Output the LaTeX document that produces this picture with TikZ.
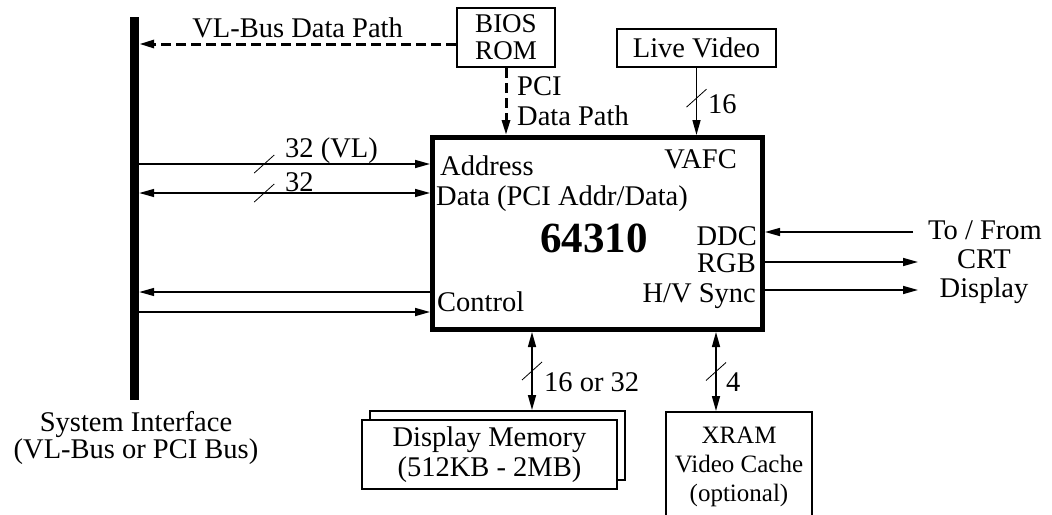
\documentclass[tikz,border=0pt]{standalone}
\usepackage{fontspec}
\setmainfont{Liberation Serif}
\usetikzlibrary{arrows.meta}
\tikzset{
  every node/.style={font=\fontsize{28.5}{30}\selectfont, inner sep=0pt},
  blk/.style={draw, line width=2pt, fill=white},
  chip/.style={draw, line width=5pt, minimum width=330pt, minimum height=192pt},
  busbar/.style={fill=black, minimum width=9pt, minimum height=383pt},
  conn/.style={line width=1.5pt},
  dpath/.style={line width=3pt, dash pattern=on 10pt off 5pt},
  slash/.style={line width=0.8pt}
}
\newcommand{\wbus}[1]{\draw[slash] ([shift={(-10,9)}]#1) -- ([shift={(10,-9)}]#1);}

\begin{document}
\begin{tikzpicture}[x=1pt, y=-1pt, >={Triangle[length=15pt,width=8pt]}]
\useasboundingbox (0,0) rectangle (1052,514);
\clip (0,0) rectangle (1052,514);

\node[busbar] (bus) at (134.5,208.5) {};
\node[anchor=north, align=center, font=\fontsize{28.5}{24}\selectfont] (sysif) at (136,411) {System Interface\\(VL-Bus or PCI Bus)};

\node[chip] (chip) at (597.5,233.5) {};
\node[blk, minimum width=98, minimum height=59, align=center, font=\fontsize{27}{27}\selectfont] (bios) at (506,37.5) {BIOS\\ROM};
\node[blk, minimum width=159, minimum height=38] (live) at (696.5,48) {Live Video};
\node[blk, minimum width=255, minimum height=69] (memback) at (497.5,445.5) {};
\node[blk, minimum width=255, minimum height=69, align=center] (mem) at (489.5,454.5) {Display Memory\\(512KB - 2MB)};
\node[blk, anchor=north, minimum width=146, inner ysep=15pt, align=center, font=\fontsize{25}{29}\selectfont] (xram) at (739,411) {XRAM\\Video Cache\\(optional)};

% pin labels of the 64310
\node[anchor=base west] (addr) at (440,175) {Address};
\node[anchor=base west] (data) at (436,205) {Data (PCI Addr/Data)};
\node[anchor=base west] (ctrl) at (437,311) {Control};
\node[anchor=base east] (vafc) at (737,168) {VAFC};
\node[anchor=base, font=\bfseries\fontsize{43}{45}\selectfont] (chipname) at (594,252) {64310};
\node[anchor=base east] (ddc) at (757,245) {DDC};
\node[anchor=base east] (rgb) at (756,272) {RGB};
\node[anchor=base east] (hvs) at (756,302) {H/V Sync};

\node[anchor=base] (tofrom) at (985,239) {To / From};
\node[anchor=base] (crt) at (984,268) {CRT};
\node[anchor=base] (disp) at (984,297) {Display};

\coordinate (vlpath) at (456,44);
\coordinate (apin) at (430,164);
\coordinate (dpin) at (430,193);
\coordinate (cout) at (430,292);
\coordinate (cin) at (430,312);
\coordinate (ddcend) at (913,232);
\coordinate (rgbend) at (918,262);
\coordinate (hvsend) at (918,290);
\coordinate (mtap) at (532,370);
\coordinate (xtap) at (716,370);

\draw[dpath,->] (bios.west |- vlpath) -- node[above=5pt] (vllbl) {VL-Bus Data Path} (bus.east |- vlpath);
\draw[dpath,->] (bios.south) -- (bios.south |- chip.north);
\node[anchor=north west, align=left] (pcilbl) at (517,76) {PCI\\Data Path};

\draw[conn,->] (live.south) -- coordinate[pos=0.45] (livetick) (live.south |- chip.north);
\wbus{livetick}
\node[anchor=base west] (livew) at (708,113) {16};

\draw[conn,->] (bus.east |- apin) -- coordinate[pos=0.43] (atick) (chip.west |- apin);
\wbus{atick}
\node[anchor=base west] (aw) at (285,157) {32 (VL)};
\draw[conn,<->] (bus.east |- dpin) -- coordinate[pos=0.43] (dtick) (chip.west |- dpin);
\wbus{dtick}
\node[anchor=base west] (dw) at (285,191) {32};
\draw[conn,<-] (bus.east |- cout) -- (chip.west |- cout);
\draw[conn,->] (bus.east |- cin) -- (chip.west |- cin);

\draw[conn,->] (ddcend) -- (chip.east |- ddcend);
\draw[conn,->] (chip.east |- rgbend) -- (rgbend);
\draw[conn,->] (chip.east |- hvsend) -- (hvsend);

\draw[conn,<->] (chip.south -| mtap) -- coordinate (mtick) (memback.north -| mtap);
\wbus{mtick}
\node[anchor=base west] (mw) at (544,391) {16 or 32};
\draw[conn,<->] (chip.south -| xtap) -- coordinate (xtick) (xram.north -| xtap);
\wbus{xtick}
\node[anchor=base west] (xw) at (726,391) {4};
\end{tikzpicture}
\end{document}
